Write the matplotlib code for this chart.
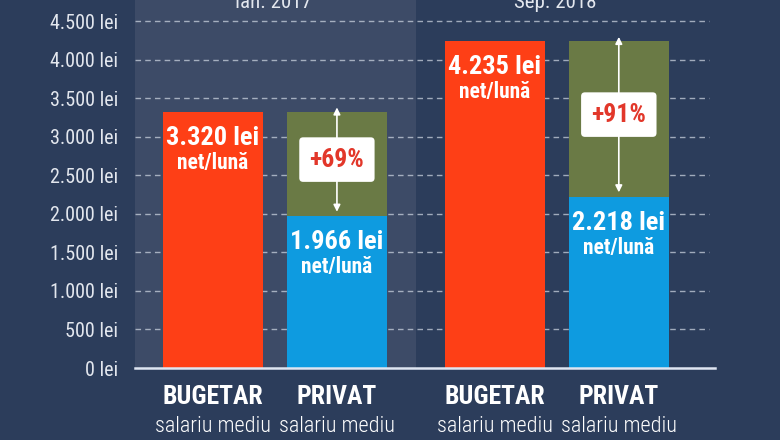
import matplotlib
matplotlib.use("Agg")
import matplotlib.pyplot as plt
from matplotlib.transforms import blended_transform_factory

# date
perioade = ["Ian. 2017", "Sep. 2018"]
categorii = ["BUGETAR", "PRIVAT", "BUGETAR", "PRIVAT"]
subtitlu = "salariu mediu"
bugetar = [3320, 4235]
privat = [1966, 2218]
etichete_bugetar = ["3.320 lei", "4.235 lei"]
etichete_privat = ["1.966 lei", "2.218 lei"]
diferente = ["+69%", "+91%"]
y_ticks = [0, 500, 1000, 1500, 2000, 2500, 3000, 3500, 4000, 4500]
y_labels = ["0 lei", "500 lei", "1.000 lei", "1.500 lei", "2.000 lei",
            "2.500 lei", "3.000 lei", "3.500 lei", "4.000 lei", "4.500 lei"]

BG = "#2c3d5b"
PANEL = "#3d4b67"
ROSU = "#fe3f16"
ALBASTRU = "#0e9be0"
VERDE = "#6a7a45"
ROSU_TXT = "#e2372a"
FONT = ["Roboto Condensed", "Liberation Sans Narrow", "Roboto", "DejaVu Sans"]

plt.rcParams["font.family"] = FONT
plt.rcParams["font.stretch"] = "condensed"

fig = plt.figure(figsize=(7.8, 4.4), dpi=100, facecolor=BG)
ax = fig.add_axes([135 / 780, 72 / 440, 580 / 780, 368 / 440])
ax.set_facecolor(BG)
ax.set_xlim(-0.629, 4.05)
ax.set_ylim(0, 4773)

x_bug = [0, 2.274]
x_priv = [1, 3.274]
latime = 0.806

# panoul din stanga (Ian. 2017)
ax.axvspan(-0.629, 1.637, color=PANEL, zorder=0, lw=0)

# grila punctata
ax.hlines(y_ticks[1:], -0.629, 4.0, colors="#c9d1de", linestyles=(0, (4, 3)),
          lw=1.0, alpha=0.75, zorder=1)

ax.bar(x_bug, bugetar, width=latime, color=ROSU, zorder=2)
ax.bar(x_priv, privat, width=latime, color=ALBASTRU, zorder=2)
ax.bar(x_priv, [b - p for b, p in zip(bugetar, privat)], bottom=privat,
       width=latime, color=VERDE, zorder=2)

for spine in ["top", "right", "left"]:
    ax.spines[spine].set_visible(False)
ax.spines["bottom"].set_color("#dfe6f2")
ax.spines["bottom"].set_linewidth(1.8)
ax.spines["bottom"].set_zorder(3)

ax.set_yticks(y_ticks)
ax.set_yticklabels(y_labels, color="#e3e7ee", fontsize=14.5)
ax.tick_params(axis="y", length=0, pad=12)
ax.set_xticks([])

# etichete valori
def eticheta(x, y, text):
    ax.annotate(text, xy=(x, y), xytext=(0, -26), textcoords="offset pixels",
                ha="center", va="center", color="white", fontsize=19,
                fontweight="bold", zorder=5)
    ax.annotate("net/lună", xy=(x, y), xytext=(0, -51), textcoords="offset pixels",
                ha="center", va="center", color="white", fontsize=15.5,
                fontweight="bold", zorder=5)

for i in range(2):
    eticheta(x_bug[i], bugetar[i], etichete_bugetar[i])
    eticheta(x_priv[i], privat[i], etichete_privat[i])

    # sageata dubla + procent
    ax.annotate("", xy=(x_priv[i], bugetar[i] + 60), xytext=(x_priv[i], privat[i] + 60),
                arrowprops=dict(arrowstyle="<|-|>", color="white", lw=1.2,
                                mutation_scale=10, shrinkA=0, shrinkB=0),
                zorder=4)
    ax.text(x_priv[i], (bugetar[i] + privat[i]) / 2 + 60, diferente[i],
            ha="center", va="center", color=ROSU_TXT, fontsize=18.5,
            fontweight="bold", zorder=6,
            bbox=dict(boxstyle="round,pad=0.4,rounding_size=0.15",
                      fc="white", ec="none"))

# categorii sub axa
tr = blended_transform_factory(ax.transData, ax.transAxes)
for x, cat in zip(x_bug + x_priv, categorii[0::2] + categorii[1::2]):
    ax.annotate(cat, xy=(x, 0), xycoords=tr, xytext=(0, -29),
                textcoords="offset pixels", ha="center", va="center",
                color="white", fontsize=18.5, fontweight="bold",
                annotation_clip=False)
    ax.annotate(subtitlu, xy=(x, 0), xycoords=tr, xytext=(0, -58),
                textcoords="offset pixels", ha="center", va="center",
                color="white", fontsize=16, fontweight="light",
                annotation_clip=False)

# perioade sus
for xc, per in zip([0.484, 2.758], perioade):
    ax.annotate(per, xy=(xc, 1), xycoords=tr, xytext=(0, -8),
                textcoords="offset pixels", ha="center", va="baseline",
                color="#e3e7ee", fontsize=15, annotation_clip=False)

fig.savefig("out.png", dpi=100, facecolor=BG)
